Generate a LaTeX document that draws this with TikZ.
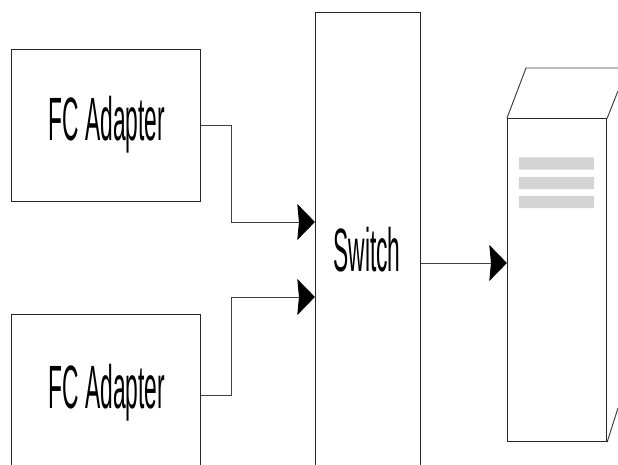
\documentclass[tikz,border=0pt]{standalone}
\usepackage{fontspec}
\setmainfont{Liberation Sans}
\usetikzlibrary{arrows.meta}
\begin{document}
\begin{tikzpicture}[x=0.025cm,y=-0.025cm]
 % styles
  \tikzset{boite/.style={rectangle,draw=black!85,line width=0.7pt,inner sep=0pt},
    fil/.style={draw=black!75,line width=0.7pt},
    lien/.style={fil,-{Stealth[inset=1.2pt,length=0.44cm,width=0.9cm,color=black]}},
    barre/.style={rectangle,fill=black!17,rounded corners=0.5pt,minimum width=1.875cm,minimum height=0.31cm,inner sep=0pt},
    texte/.style={font=\fontsize{30}{30}\selectfont,anchor=base,inner sep=0pt,xscale=0.54,yscale=1.45}}
  \useasboundingbox (0,0) rectangle (618,465);
  \clip (0,0) rectangle (618,465);
 % the boxes
  \node[boite,minimum width=4.72cm,minimum height=3.8cm] (FCa) at (106.3,125.8) {};
  \node[boite,minimum width=4.72cm,minimum height=4.05cm] (FCb) at (106.3,395.5) {};
  \node[boite,minimum width=2.63cm,minimum height=12cm] (Switch) at (368,252.5) {};
  \node[boite,minimum width=2.48cm,minimum height=8.07cm] (Server) at (557,280.3) {};
 % the texts
  \node[texte] (Ta) at (107,141) {FC Adapter};
  \node[texte] (Tb) at (107,408) {FC Adapter};
  \node[texte] (Ts) at (367,272) {Switch};
 % the top of the server
  \coordinate (Sa) at (526,68);
  \coordinate (Sb) at (618,68);
  \coordinate (Sc) at (618,91);
  \coordinate (Sd) at (618,408);
  \draw[fil] (Server.north west)--(Sa)--(Sb);
  \draw[fil] (Server.north east)--(Sc);
  \draw[fil] (Server.south east)--(Sd);
  \node[barre] (Ba) at (556.5,163.5) {};
  \node[barre] (Bb) at (556.5,183) {};
  \node[barre] (Bc) at (556.5,202) {};
 % the arrows
  \coordinate (Ia) at (Switch.west |- 0,222);
  \coordinate (Ib) at (Switch.west |- 0,297);
  \coordinate (Ic) at (Server.west |- 0,263);
  \draw[lien] (FCa.east)--++(30,0)|-(Ia);
  \draw[lien] (FCb.east)--++(30,0)|-(Ib);
  \draw[lien] (Switch.east |- Ic)--(Ic);
\end{tikzpicture}
\end{document}
